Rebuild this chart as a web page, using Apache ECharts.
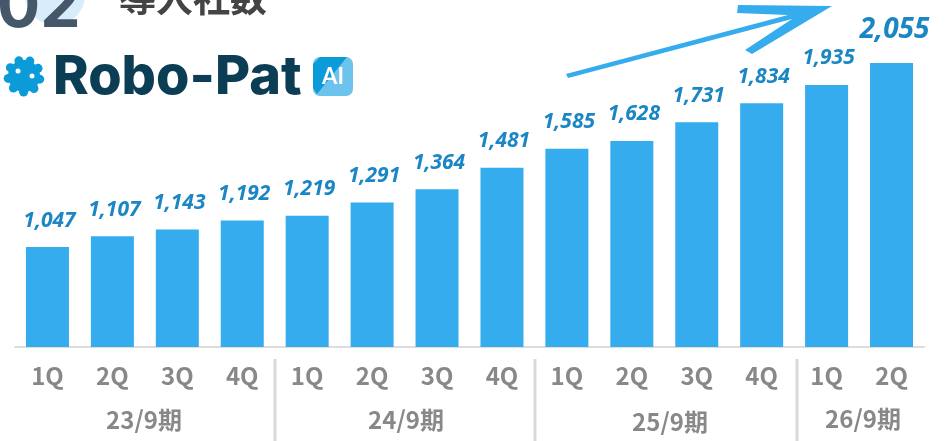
<!DOCTYPE html>
<html>
<head>
<meta charset="utf-8">
<style>html,body{margin:0;padding:0;background:#fff;}#chart{width:948px;height:441px;}</style>
<script src="https://cdn.jsdelivr.net/npm/echarts@6/dist/echarts.min.js"></script>
</head>
<body>
<div id="chart"></div>
<script>
var quarters = ['1Q','2Q','3Q','4Q','1Q','2Q','3Q','4Q','1Q','2Q','3Q','4Q','1Q','2Q'];
var counts = [1047,1107,1143,1192,1219,1291,1364,1481,1585,1628,1731,1834,1935,2055];
var periods = ['23/9期','24/9期','25/9期','26/9期'];
var periodX = [144,406,670,863];
var periodY = [420,420,422,419];
var dividerX = [275,535,797];

var FONT = '"Noto Sans CJK JP"';
var chart = echarts.init(document.getElementById('chart'));

function fmt(v){
    return String(v).replace(/\B(?=(\d{3})+$)/g, ',');
}

var barData = [];
for(var i = 0; i < counts.length; i++){
    var item = {value: counts[i]};
    // 最新の四半期だけ大きく表示
    if(i == counts.length - 1){
        item.label = {fontSize: 28, offset: [3, -3]};
    }
    barData.push(item);
}

var graphics = [
    // タイトル(上端で切れている)
    {type:'circle', silent:true, shape:{cx:55,cy:-5,r:30}, style:{fill:'#d8edfb'}},
    {type:'text', silent:true, style:{x:-3,y:-24,text:'02',font:'bold 64px "Inter"',fill:'#44586a'}},
    {type:'text', silent:true, style:{x:119,y:-21,text:'導入社数',font:'bold 37px '+FONT,fill:'#444444'}},
    // ロゴ
    {type:'circle', silent:true, shape:{cx:24,cy:76,r:16}, style:{fill:'#0b9bd9'}},
    {type:'text', silent:true, style:{x:53,y:51,text:'Robo-Pat',font:'800 54px "Inter"',fill:'#0b3d55'}},
    {type:'rect', silent:true, shape:{x:313,y:57,width:40,height:39,r:7}, style:{fill:'#6cc3ec'}},
    {type:'polygon', silent:true, shape:{points:[[313,64],[320,57],[347,57],[317,94],[313,88]]}, style:{fill:'#0b9bd9'}},
    {type:'text', silent:true, style:{x:333,y:77,text:'AI',align:'center',verticalAlign:'middle',font:'bold 22px "Lato"',fill:'#ffffff'}},
    // 矢印
    {type:'polygon', silent:true, shape:{points:[[832,6],[738,5],[737,13],[788,15],[566,74],[568,78],[792,19],[745,50],[752,54]]}, style:{fill:'#35aced'}}
];
// ロゴの歯車
for(var g = 0; g < 9; g++){
    var a = g * 2 * Math.PI / 9 + 0.2;
    graphics.push({type:'circle', silent:true, shape:{cx:24 + 16 * Math.cos(a), cy:76 + 16 * Math.sin(a), r:4.5}, style:{fill:'#0b9bd9'}});
}
graphics.push({type:'circle', silent:true, shape:{cx:18,cy:71,r:2.5}, style:{fill:'#ffffff'}});
graphics.push({type:'circle', silent:true, shape:{cx:32,cy:76,r:2.5}, style:{fill:'#ffffff'}});

for(var d = 0; d < dividerX.length; d++){
    graphics.push({type:'line', silent:true, shape:{x1:dividerX[d],y1:359,x2:dividerX[d],y2:441}, style:{stroke:'#d9d9d9',lineWidth:3}});
}
for(var p = 0; p < periods.length; p++){
    graphics.push({type:'text', silent:true, style:{x:periodX[p],y:periodY[p],text:periods[p],align:'center',verticalAlign:'middle',font:'bold 24px '+FONT,fill:'#888888'}});
}

var option = {
    animation: false,
    backgroundColor: '#ffffff',
    grid: {left: 15, right: 24, top: 0, height: 347},
    xAxis: {
        type: 'category',
        data: quarters,
        axisLine: {lineStyle: {color: '#dddddd', width: 2}},
        axisTick: {show: false},
        axisLabel: {interval: 0, color: '#888888', fontSize: 24, fontWeight: 'bold', fontFamily: FONT, margin: 17}
    },
    yAxis: {type: 'value', min: 500, max: 2400, show: false, splitLine: {show: false}},
    series: [{
        type: 'bar',
        data: barData,
        barWidth: 43,
        itemStyle: {color: '#35aced'},
        label: {
            show: true,
            position: 'top',
            distance: 16,
            offset: [2, 0],
            formatter: function(p){ return fmt(p.value); },
            color: '#1a86c4',
            fontSize: 21,
            fontStyle: 'italic',
            fontWeight: 'bold',
            fontFamily: 'Noto Sans'
        }
    }],
    graphic: graphics
};
chart.setOption(option);
</script>
</body>
</html>
